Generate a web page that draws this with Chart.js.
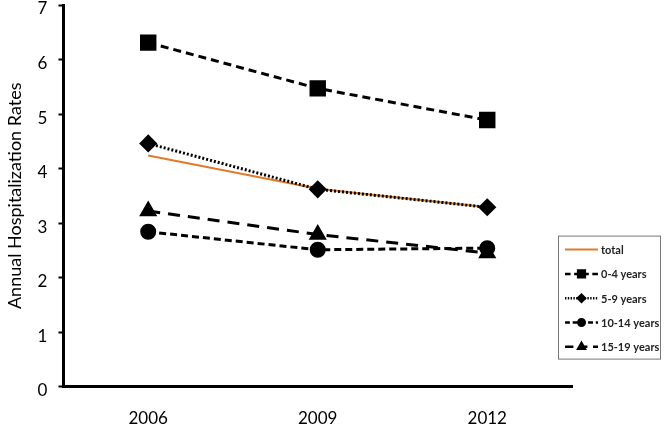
<!DOCTYPE html>
<html><head><meta charset="utf-8">
<script src="https://cdn.jsdelivr.net/npm/chart.js@4"></script>
<style>html,body{margin:0;padding:0;background:#fff}#wrap{width:666px;height:425px}</style>
</head><body><div id="wrap"><canvas id="c" width="666" height="425"></canvas></div>
<script>
const years = ['2006', '2009', '2012'];
const seriesNames = ['total', '0-4 years', '5-9 years', '10-14 years', '15-19 years'];
const total = [4.24, 3.63, 3.29];
const age0_4 = [6.31, 5.47, 4.89];
const age5_9 = [4.46, 3.62, 3.29];
const age10_14 = [2.84, 2.51, 2.54];
const age15_19 = [3.22, 2.79, 2.45];
const yMin = 0, yMax = 7, yStep = 1;

const FONT = 'Lato, "Open Sans", sans-serif';

const datasets = [
  {label: seriesNames[0], data: total, borderColor: '#E07B2A', backgroundColor: '#E07B2A', borderWidth: 2, pointRadius: 0, order: 5},
  {label: seriesNames[1], data: age0_4, borderColor: '#000', backgroundColor: '#000', borderWidth: 3, borderDash: [8, 5], pointStyle: 'rect', pointRadius: 9.5, order: 1},
  {label: seriesNames[2], data: age5_9, borderColor: '#000', backgroundColor: '#000', borderWidth: 3, borderDash: [2, 2], pointStyle: 'rectRot', pointRadius: 7, order: 2},
  {label: seriesNames[3], data: age10_14, borderColor: '#000', backgroundColor: '#000', borderWidth: 3, borderDash: [7, 4], pointStyle: 'circle', pointRadius: 6.5, order: 3},
  {label: seriesNames[4], data: age15_19, borderColor: '#000', backgroundColor: '#000', borderWidth: 3, borderDash: [12, 8], pointStyle: 'triangle', pointRadius: 7.5, order: 4}
];

const boxLegend = {
  id: 'boxLegend',
  afterDraw(chart) {
    const ctx = chart.ctx;
    const ca = chart.chartArea;
    const w = 102, h = 123;
    const x0 = ca.right - 14, y0 = ca.bottom - 151;
    ctx.save();
    ctx.fillStyle = '#fff';
    ctx.fillRect(x0, y0, w, h);
    ctx.strokeStyle = '#777';
    ctx.lineWidth = 1;
    ctx.strokeRect(x0 + 0.5, y0 + 0.5, w, h);
    chart.data.datasets.forEach((ds, i) => {
      const y = y0 + 14 + i * 24.3;
      const lx1 = x0 + 7, lx2 = x0 + 40;
      ctx.strokeStyle = ds.borderColor;
      ctx.lineWidth = ds.pointRadius ? 2.5 : 2;
      ctx.setLineDash(ds.borderDash ? ds.borderDash.map(v => v * 0.7) : []);
      ctx.beginPath();
      ctx.moveTo(lx1, y);
      ctx.lineTo(lx2, y);
      ctx.stroke();
      ctx.setLineDash([]);
      if (ds.pointRadius) {
        ctx.fillStyle = ds.backgroundColor;
        ctx.strokeStyle = ds.borderColor;
        Chart.helpers.drawPoint(ctx, {pointStyle: ds.pointStyle, radius: ds.pointRadius * 0.5, rotation: 0, borderWidth: 1}, (lx1 + lx2) / 2, y);
      }
      ctx.fillStyle = '#222';
      ctx.font = 'bold 11px ' + FONT;
      ctx.textBaseline = 'middle';
      ctx.textAlign = 'left';
      ctx.fillText(ds.label, lx2 + 3, y + 1);
    });
    ctx.restore();
  }
};

new Chart(document.getElementById('c'), {
  type: 'line',
  data: {labels: years, datasets: datasets},
  plugins: [boxLegend],
  options: {
    responsive: false,
    animation: false,
    layout: {autoPadding: false, padding: {left: 4, right: 94, top: 5, bottom: -26}},
    plugins: {legend: {display: false}, tooltip: {enabled: false}},
    elements: {line: {tension: 0}},
    scales: {
      x: {
        offset: true,
        grid: {display: false, drawTicks: false},
        border: {color: '#000', width: 3},
        ticks: {color: '#000', padding: 22, font: {family: FONT, size: 17}}
      },
      y: {
        min: yMin, max: yMax,
        afterFit(scale) { scale.paddingTop = 0; },
        grid: {drawOnChartArea: false, drawTicks: true, tickLength: 5, tickColor: '#000', tickWidth: 2},
        border: {color: '#000', width: 3},
        ticks: {stepSize: yStep, color: '#000', padding: 11, labelOffset: 4, font: {family: FONT, size: 17}},
        title: {display: true, text: 'Annual Hospitalization Rates', color: '#000', padding: {top: 0, bottom: 1}, font: {family: FONT, size: 18}}
      }
    }
  }
});
</script>
</body></html>
